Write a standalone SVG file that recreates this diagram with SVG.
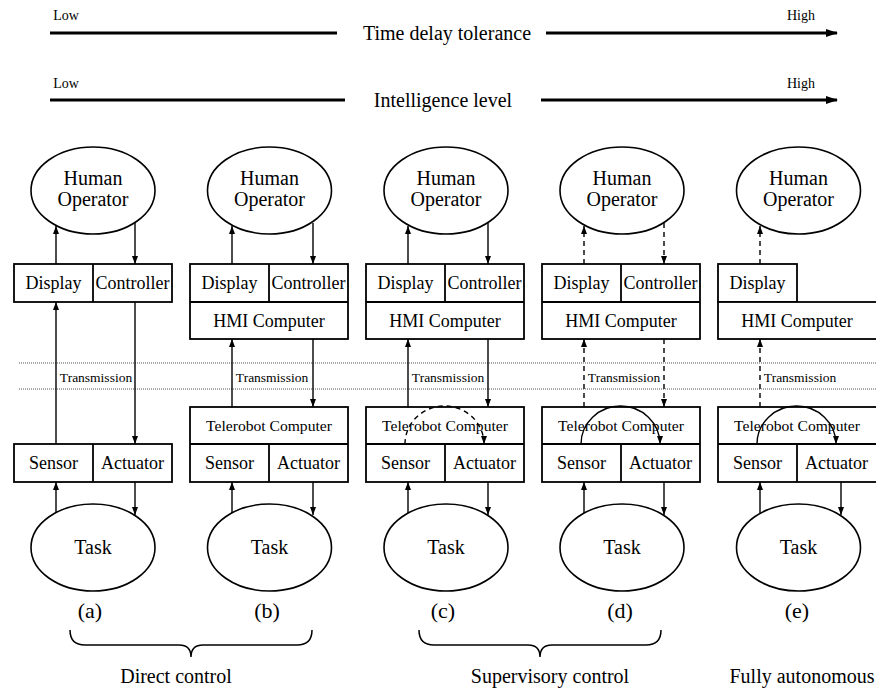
<svg xmlns="http://www.w3.org/2000/svg" width="876" height="690" viewBox="0 0 876 690">
  <style>
    text { font-family: "Liberation Serif", Tinos, "Times New Roman", Times, "Noto Serif", "DejaVu Serif", serif; fill: #000; text-anchor: middle; }
    .t14 { font-size: 14px; }
    .t20 { font-size: 20px; }
    .box { fill: #fff; stroke: #000; stroke-width: 1.8; }
    .ell { fill: #fff; stroke: #000; stroke-width: 1.6; }
    .lbl { font-size: 18px; }
    .tc { font-size: 15.6px; }
    .tx { font-size: 13.5px; }
    .cap { font-size: 22px; }
    .link { fill: none; stroke: #000; stroke-width: 1.4; marker-end: url(#ah); }
    .dash { stroke-dasharray: 5 4; }
    .axis { fill: none; stroke: #000; stroke-width: 3; }
    .dot { fill: none; stroke: #555; stroke-width: 1; stroke-dasharray: 1 1; }
    .brace { fill: none; stroke: #000; stroke-width: 1.5; }
  </style>
  <defs>
    <marker id="ah" viewBox="0 0 8 6" refX="8" refY="3" markerWidth="8" markerHeight="6" markerUnits="userSpaceOnUse" orient="auto">
      <path d="M0,0 L8,3 L0,6 z" fill="#000"/>
    </marker>
    <marker id="big" viewBox="0 0 12 10" refX="11" refY="5" markerWidth="12" markerHeight="10" markerUnits="userSpaceOnUse" orient="auto">
      <path d="M0,1 L12,5 L0,9 z" fill="#000"/>
    </marker>
  </defs>

  <!-- scale arrows -->
  <g id="time-delay">
    <text class="t14" x="66" y="20">Low</text>
    <text class="t14" x="801" y="20">High</text>
    <line class="axis" x1="50" y1="33" x2="337" y2="33"/>
    <text class="t20" x="447" y="40">Time delay tolerance</text>
    <line class="axis" x1="546" y1="33" x2="837" y2="33" marker-end="url(#big)"/>
  </g>
  <g id="intelligence">
    <text class="t14" x="66" y="88">Low</text>
    <text class="t14" x="801" y="88">High</text>
    <line class="axis" x1="50" y1="100" x2="345" y2="100"/>
    <text class="t20" x="443" y="107">Intelligence level</text>
    <line class="axis" x1="541" y1="100" x2="837" y2="100" marker-end="url(#big)"/>
  </g>

  <!-- transmission band -->
  <g id="transmission-band">
    <line class="dot" x1="19" y1="363" x2="876" y2="363"/>
    <line class="dot" x1="19" y1="389" x2="876" y2="389"/>
  </g>

  <!-- column (a) -->
  <g id="col-a">
    <ellipse class="ell" cx="93" cy="190.5" rx="62" ry="43.5"/>
    <text class="t20" x="93" y="185">Human</text>
    <text class="t20" x="93" y="206">Operator</text>
    <rect class="box" x="14" y="264" width="158" height="38"/>
    <line class="box" x1="93" y1="264" x2="93" y2="302"/>
    <text class="lbl" x="53.5" y="289">Display</text>
    <text class="lbl" x="132.5" y="289">Controller</text>
    <rect class="box" x="14" y="444" width="158" height="38"/>
    <line class="box" x1="93" y1="444" x2="93" y2="482"/>
    <text class="lbl" x="53.5" y="469">Sensor</text>
    <text class="lbl" x="132.5" y="469">Actuator</text>
    <ellipse class="ell" cx="93" cy="547.5" rx="62" ry="43.5"/>
    <text class="t20" x="93" y="554">Task</text>
    <text class="tx" x="96" y="382">Transmission</text>
    <text class="cap" x="90" y="618">(a)</text>
  </g>

  <!-- column (b) -->
  <g id="col-b">
    <ellipse class="ell" cx="269.5" cy="190.5" rx="62" ry="43.5"/>
    <text class="t20" x="269.5" y="185">Human</text>
    <text class="t20" x="269.5" y="206">Operator</text>
    <rect class="box" x="190" y="264" width="158" height="75"/>
    <line class="box" x1="190" y1="302" x2="348" y2="302"/>
    <line class="box" x1="269" y1="264" x2="269" y2="302"/>
    <text class="lbl" x="229.5" y="289">Display</text>
    <text class="lbl" x="308.5" y="289">Controller</text>
    <text class="lbl" x="269" y="327">HMI Computer</text>
    <rect class="box" x="190" y="407" width="158" height="75"/>
    <line class="box" x1="190" y1="444" x2="348" y2="444"/>
    <line class="box" x1="269" y1="444" x2="269" y2="482"/>
    <text class="tc" x="269" y="431">Telerobot Computer</text>
    <text class="lbl" x="229.5" y="469">Sensor</text>
    <text class="lbl" x="308.5" y="469">Actuator</text>
    <ellipse class="ell" cx="269.5" cy="547.5" rx="62" ry="43.5"/>
    <text class="t20" x="269.5" y="554">Task</text>
    <text class="tx" x="272" y="382">Transmission</text>
    <text class="cap" x="267" y="618">(b)</text>
  </g>

  <!-- column (c) -->
  <g id="col-c">
    <ellipse class="ell" cx="446" cy="190.5" rx="62" ry="43.5"/>
    <text class="t20" x="446" y="185">Human</text>
    <text class="t20" x="446" y="206">Operator</text>
    <rect class="box" x="366" y="264" width="158" height="75"/>
    <line class="box" x1="366" y1="302" x2="524" y2="302"/>
    <line class="box" x1="445" y1="264" x2="445" y2="302"/>
    <text class="lbl" x="405.5" y="289">Display</text>
    <text class="lbl" x="484.5" y="289">Controller</text>
    <text class="lbl" x="445" y="327">HMI Computer</text>
    <rect class="box" x="366" y="407" width="158" height="75"/>
    <line class="box" x1="366" y1="444" x2="524" y2="444"/>
    <line class="box" x1="445" y1="444" x2="445" y2="482"/>
    <text class="tc" x="445" y="431">Telerobot Computer</text>
    <text class="lbl" x="405.5" y="469">Sensor</text>
    <text class="lbl" x="484.5" y="469">Actuator</text>
    <ellipse class="ell" cx="446" cy="547.5" rx="62" ry="43.5"/>
    <text class="t20" x="446" y="554">Task</text>
    <text class="tx" x="448" y="382">Transmission</text>
    <text class="cap" x="443" y="618">(c)</text>
  </g>

  <!-- column (d) -->
  <g id="col-d">
    <ellipse class="ell" cx="622" cy="190.5" rx="62" ry="43.5"/>
    <text class="t20" x="622" y="185">Human</text>
    <text class="t20" x="622" y="206">Operator</text>
    <rect class="box" x="542" y="264" width="158" height="75"/>
    <line class="box" x1="542" y1="302" x2="700" y2="302"/>
    <line class="box" x1="621" y1="264" x2="621" y2="302"/>
    <text class="lbl" x="581.5" y="289">Display</text>
    <text class="lbl" x="660.5" y="289">Controller</text>
    <text class="lbl" x="621" y="327">HMI Computer</text>
    <rect class="box" x="542" y="407" width="158" height="75"/>
    <line class="box" x1="542" y1="444" x2="700" y2="444"/>
    <line class="box" x1="621" y1="444" x2="621" y2="482"/>
    <text class="tc" x="621" y="431">Telerobot Computer</text>
    <text class="lbl" x="581.5" y="469">Sensor</text>
    <text class="lbl" x="660.5" y="469">Actuator</text>
    <ellipse class="ell" cx="622" cy="547.5" rx="62" ry="43.5"/>
    <text class="t20" x="622" y="554">Task</text>
    <text class="tx" x="624" y="382">Transmission</text>
    <text class="cap" x="620" y="618">(d)</text>
  </g>

  <!-- column (e) -->
  <g id="col-e">
    <ellipse class="ell" cx="798.5" cy="190.5" rx="62" ry="43.5"/>
    <text class="t20" x="798.5" y="185">Human</text>
    <text class="t20" x="798.5" y="206">Operator</text>
    <rect class="box" x="718" y="264" width="79" height="38"/>
    <rect class="box" x="718" y="302" width="160" height="37"/>
    <text class="lbl" x="757.5" y="289">Display</text>
    <text class="lbl" x="797" y="327">HMI Computer</text>
    <rect class="box" x="718" y="407" width="160" height="75"/>
    <line class="box" x1="718" y1="444" x2="878" y2="444"/>
    <line class="box" x1="797" y1="444" x2="797" y2="482"/>
    <text class="tc" x="797" y="431">Telerobot Computer</text>
    <text class="lbl" x="757.5" y="469">Sensor</text>
    <text class="lbl" x="836.5" y="469">Actuator</text>
    <ellipse class="ell" cx="798.5" cy="547.5" rx="62" ry="43.5"/>
    <text class="t20" x="798.5" y="554">Task</text>
    <text class="tx" x="800" y="382">Transmission</text>
    <text class="cap" x="797" y="618">(e)</text>
  </g>

  <!-- connectors -->
  <g id="connectors">
    <!-- (a) -->
    <path class="link" d="M56,264 V226"/>
    <path class="link" d="M135,223 V264"/>
    <path class="link" d="M56,444 V302"/>
    <path class="link" d="M135,302 V444"/>
    <path class="link" d="M56,513 V482"/>
    <path class="link" d="M135,482 V515"/>
    <!-- (b) -->
    <path class="link" d="M232,264 V226"/>
    <path class="link" d="M313,223 V264"/>
    <path class="link" d="M232,407 V339"/>
    <path class="link" d="M313,339 V407"/>
    <path class="link" d="M232,513 V482"/>
    <path class="link" d="M313,482 V515"/>
    <!-- (c) -->
    <path class="link" d="M408,264 V226"/>
    <path class="link" d="M488,223 V264"/>
    <path class="link" d="M408,407 V339"/>
    <path class="link" d="M488,339 V407"/>
    <path class="link dash" d="M405,444 A39.5,38 0 0 1 484,444"/>
    <path class="link" d="M408,513 V482"/>
    <path class="link" d="M488,482 V515"/>
    <!-- (d) -->
    <path class="link dash" d="M584,264 V226"/>
    <path class="link dash" d="M664,223 V264"/>
    <path class="link dash" d="M584,407 V339"/>
    <path class="link dash" d="M664,339 V407"/>
    <path class="link" d="M581,444 A39.5,38 0 0 1 660,444"/>
    <path class="link" d="M584,513 V482"/>
    <path class="link" d="M664,482 V515"/>
    <!-- (e) -->
    <path class="link dash" d="M760,264 V226"/>
    <path class="link dash" d="M760,407 V339"/>
    <path class="link" d="M757,444 A39.5,38 0 0 1 836,444"/>
    <path class="link" d="M760,513 V482"/>
    <path class="link" d="M841,482 V515"/>
  </g>

  <!-- groupings -->
  <g id="direct-control">
    <path class="brace" d="M70,630 Q70,645 85,645 L179,645 Q191,645 191,657 Q191,645 203,645 L297,645 Q312,645 312,630"/>
    <text class="t20" x="176" y="683">Direct control</text>
  </g>
  <g id="supervisory-control">
    <path class="brace" d="M419,630 Q419,645 434,645 L528,645 Q540,645 540,657 Q540,645 552,645 L646,645 Q661,645 661,630"/>
    <text class="t20" x="550" y="683">Supervisory control</text>
  </g>
  <g id="fully-autonomous">
    <text class="t20" x="802" y="683">Fully autonomous</text>
  </g>
</svg>
